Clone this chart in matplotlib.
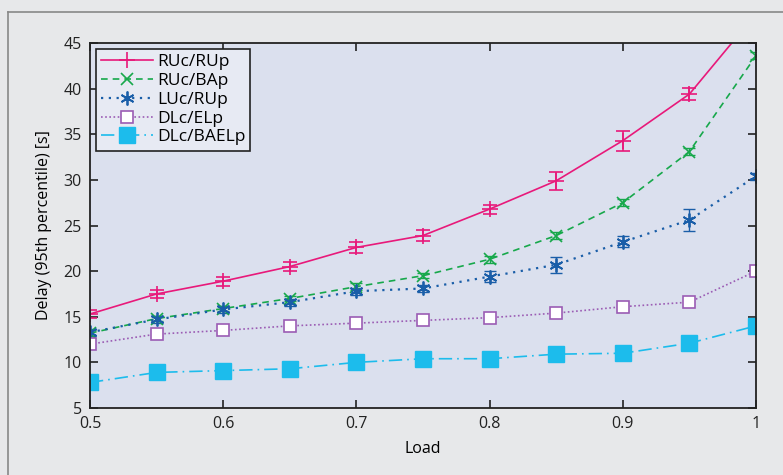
import numpy as np
import matplotlib
matplotlib.use('Agg')
import matplotlib.pyplot as plt
from matplotlib.lines import Line2D

plt.rcParams['font.family'] = ['Open Sans', 'DejaVu Sans']

load = [0.5, 0.55, 0.6, 0.65, 0.7, 0.75, 0.8, 0.85, 0.9, 0.95, 1.0]

ru_ru = [15.3, 17.5, 18.9, 20.5, 22.6, 23.9, 26.8, 29.9, 34.3, 39.4, 48.2]
ru_ru_err = [0.4, 0.4, 0.5, 0.5, 0.6, 0.6, 0.5, 1.0, 1.1, 0.7, 0.8]
ru_ba = [13.2, 14.8, 15.9, 17.0, 18.3, 19.5, 21.3, 23.9, 27.5, 33.1, 43.6]
ru_ba_err = [0.3, 0.3, 0.3, 0.3, 0.4, 0.3, 0.4, 0.4, 0.4, 0.4, 0.4]
lu_ru = [13.3, 14.7, 15.8, 16.6, 17.8, 18.1, 19.4, 20.7, 23.2, 25.6, 30.4]
lu_ru_err = [0.4, 0.4, 0.4, 0.4, 0.4, 0.4, 0.6, 0.9, 0.6, 1.2, 0.4]
dl_el = [12.0, 13.1, 13.5, 14.0, 14.3, 14.6, 14.9, 15.4, 16.1, 16.6, 20.0]
dl_el_err = [0.3, 0.3, 0.3, 0.3, 0.3, 0.3, 0.3, 0.3, 0.3, 0.3, 0.3]
dl_bael = [7.8, 8.9, 9.1, 9.3, 10.0, 10.4, 10.4, 10.9, 11.0, 12.1, 14.0]

fig = plt.figure(figsize=(7.83, 4.75), dpi=100, facecolor='#e7e8ea')
ax = fig.add_axes([90/783, 1 - 408/475, 666/783, 365/475])
ax.set_facecolor('#dbe0ee')

# error bars (no legend entries)
ax.errorbar(load, ru_ru, yerr=ru_ru_err, fmt='none', ecolor='#e8197a',
            capsize=5, elinewidth=1.2, capthick=1.2)
ax.errorbar(load, ru_ba, yerr=ru_ba_err, fmt='none', ecolor='#17a84b',
            capsize=4, elinewidth=1, capthick=1)
ax.errorbar(load, lu_ru, yerr=lu_ru_err, fmt='none', ecolor='#1a5ea8',
            capsize=4, elinewidth=1, capthick=1, ls=':')
ax.errorbar(load, dl_el, yerr=dl_el_err, fmt='none', ecolor='#9b5cb4',
            capsize=3, elinewidth=1, capthick=1)

ax.plot(load, ru_ru, color='#e8197a', ls='-', lw=1.2,
        marker='+', ms=11, mew=1.2, label='RUc/RUp')
ax.plot(load, ru_ba, color='#17a84b', ls=(0, (4, 3)), lw=1.2,
        marker='x', ms=8, mew=1.2, label='RUc/BAp')
ax.plot(load, lu_ru, color='#1a5ea8', ls=(0, (1, 2.5)), lw=1.6,
        marker=(6, 2, 0), ms=10, mew=1.3, label='LUc/RUp')
ax.plot(load, dl_el, color='#9b5cb4', ls=(0, (1, 1.5)), lw=1.2,
        marker='s', ms=9, mfc='white', mew=1.2, label='DLc/ELp')
ax.plot(load, dl_bael, color='#1cbcec', ls=(0, (8, 3, 1, 3)), lw=1.2,
        marker='s', ms=11, label='DLc/BAELp')

ax.set_xlim(0.5, 1.0)
ax.set_ylim(5, 45)
ax.set_xticks([0.5, 0.6, 0.7, 0.8, 0.9, 1.0])
ax.set_xticklabels(['0.5', '0.6', '0.7', '0.8', '0.9', '1'])
ax.set_yticks(range(5, 50, 5))
ax.tick_params(direction='in', length=6, width=1.2, top=True, right=True,
               labelsize=11.5, colors='#222222', pad=6)
for s in ax.spines.values():
    s.set_linewidth(1.3)
    s.set_color('#222222')
ax.set_xlabel('Load', fontsize=11.5, labelpad=6)
ax.set_ylabel('Delay (95th percentile) [s]', fontsize=11.5, labelpad=8)

leg = ax.legend(loc='upper left', handlelength=3.0, fontsize=12.5, fancybox=False,
                framealpha=1, facecolor='#e7eaf3', edgecolor='#222222',
                borderaxespad=0.35, labelspacing=0.15, borderpad=0.3,
                handletextpad=0.2)
leg.get_frame().set_linewidth(1.2)

# outer frame of the figure panel
fig.add_artist(Line2D([8/783, 8/783], [0, 1 - 12/475], color='#888888', lw=1.2))
fig.add_artist(Line2D([8/783, 1], [1 - 12/475, 1 - 12/475], color='#888888', lw=1.2))

fig.savefig('out.png', dpi=100, facecolor=fig.get_facecolor())
